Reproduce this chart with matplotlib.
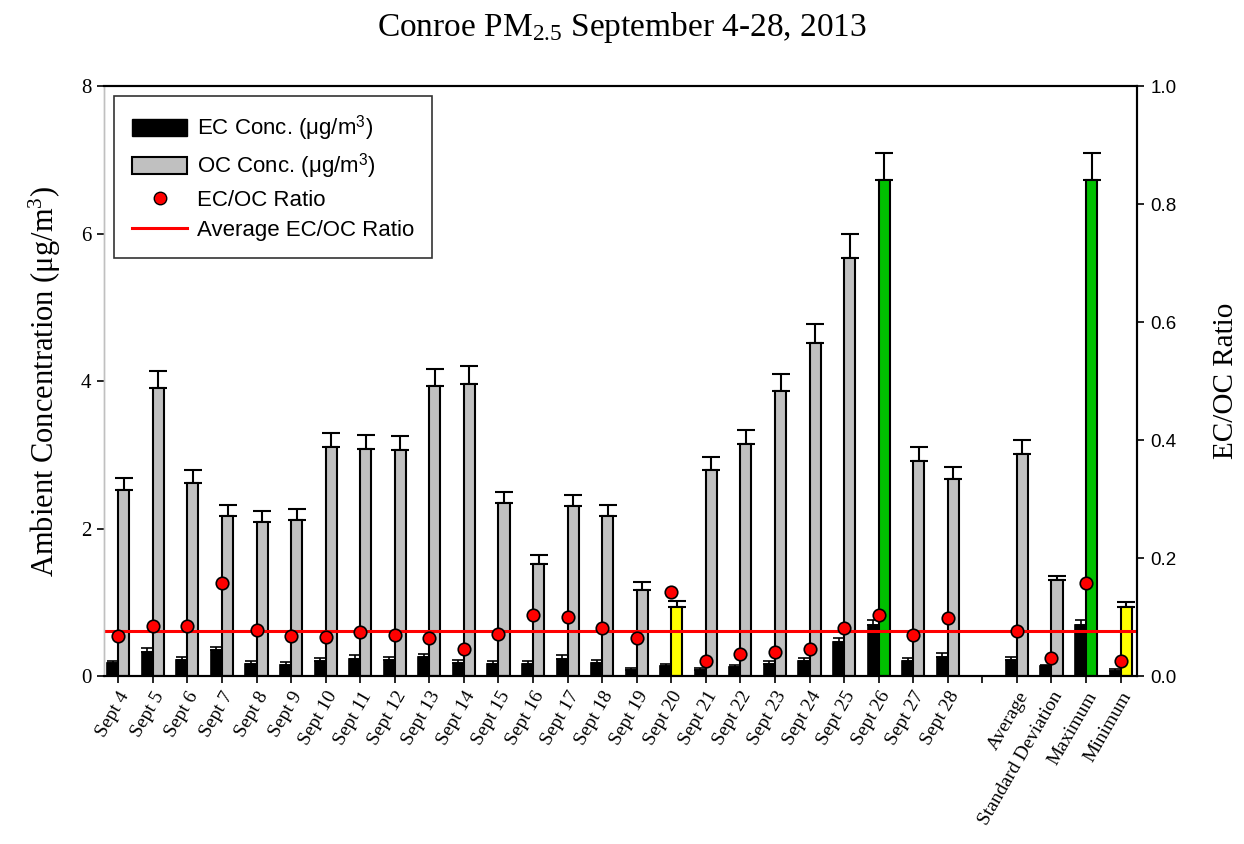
import numpy as np
import matplotlib
matplotlib.use("Agg")
import matplotlib.pyplot as plt
from matplotlib.patches import Patch
from matplotlib.lines import Line2D

# categories (blank entry = gap between daily values and summary stats)
labels = ["Sept 4", "Sept 5", "Sept 6", "Sept 7", "Sept 8", "Sept 9", "Sept 10",
          "Sept 11", "Sept 12", "Sept 13", "Sept 14", "Sept 15", "Sept 16", "Sept 17",
          "Sept 18", "Sept 19", "Sept 20", "Sept 21", "Sept 22", "Sept 23", "Sept 24",
          "Sept 25", "Sept 26", "Sept 27", "Sept 28", "",
          "Average", "Standard Deviation", "Maximum", "Minimum"]

nan = np.nan
ec = [0.18, 0.33, 0.22, 0.35, 0.17, 0.15, 0.20, 0.23, 0.22, 0.26, 0.18, 0.17, 0.16,
      0.23, 0.18, 0.08, 0.14, 0.08, 0.12, 0.16, 0.20, 0.46, 0.69, 0.20, 0.26, nan,
      0.22, 0.13, 0.69, 0.07]
ec_err = [0.03, 0.05, 0.04, 0.04, 0.04, 0.04, 0.04, 0.05, 0.04, 0.04, 0.04, 0.04, 0.04,
          0.05, 0.04, 0.03, 0.03, 0.03, 0.03, 0.04, 0.04, 0.05, 0.07, 0.04, 0.05, nan,
          0.04, 0.02, 0.07, 0.03]
oc = [2.52, 3.90, 2.62, 2.17, 2.09, 2.12, 3.10, 3.08, 3.06, 3.93, 3.96, 2.34, 1.52,
      2.30, 2.17, 1.17, 0.93, 2.79, 3.15, 3.87, 4.51, 5.67, 6.72, 2.92, 2.67, nan,
      3.01, 1.30, 6.72, 0.93]
oc_err = [0.17, 0.23, 0.17, 0.15, 0.15, 0.14, 0.19, 0.19, 0.19, 0.23, 0.24, 0.16, 0.12,
          0.15, 0.15, 0.10, 0.09, 0.18, 0.19, 0.23, 0.27, 0.33, 0.37, 0.19, 0.17, nan,
          0.19, 0.06, 0.37, 0.08]
ratio = [0.068, 0.084, 0.084, 0.158, 0.078, 0.068, 0.066, 0.075, 0.070, 0.065, 0.045,
         0.071, 0.103, 0.100, 0.081, 0.064, 0.142, 0.026, 0.037, 0.041, 0.045, 0.081,
         0.103, 0.070, 0.099, nan, 0.076, 0.031, 0.157, 0.025]
avg_ratio = 0.076

oc_colors = ["#c0c0c0"] * len(labels)
for lab, col in [("Sept 20", "#ffff00"), ("Minimum", "#ffff00"),
                 ("Sept 26", "#00c000"), ("Maximum", "#00c000")]:
    oc_colors[labels.index(lab)] = col

serif = ["Liberation Serif", "DejaVu Serif"]
sans = ["Liberation Sans", "DejaVu Sans"]
plt.rcParams["mathtext.fontset"] = "custom"
plt.rcParams["mathtext.rm"] = "Liberation Serif"
plt.rcParams["mathtext.it"] = "Liberation Serif:italic"
plt.rcParams["mathtext.sf"] = "Liberation Sans"

fig = plt.figure(figsize=(12.44, 8.44), dpi=100)
ax = fig.add_axes([0.0836, 0.199, 0.830, 0.699])
ax2 = ax.twinx()

x = np.arange(len(labels))
w = 0.32
ec_arr = np.array(ec)
oc_arr = np.array(oc)
ax.bar(x - w / 2, ec_arr, w, color="black", edgecolor="black", linewidth=1.2, zorder=2)
ax.bar(x + w / 2, oc_arr, w, color=oc_colors, edgecolor="black", linewidth=1.5, zorder=2)
ax.errorbar(x - w / 2, ec_arr, yerr=[np.zeros(len(x)), np.array(ec_err)], fmt="none",
            ecolor="black", elinewidth=1.2, capsize=4.5, capthick=1.2, zorder=1)
ax.errorbar(x + w / 2, oc_arr, yerr=[np.zeros(len(x)), np.array(oc_err)], fmt="none",
            ecolor="black", elinewidth=1.5, capsize=6.3, capthick=1.5, zorder=1)

ax2.axhline(avg_ratio, color="#ff0000", linewidth=2.2, zorder=2)
ax2.plot(x, ratio, "o", color="#ff0000", markeredgecolor="black", markeredgewidth=1.2,
         markersize=9, zorder=3)

ax.set_xlim(-0.414, 29.46)
ax.set_ylim(0, 8)
ax2.set_ylim(0, 1.0)
ax.set_yticks([0, 2, 4, 6, 8])
ax2.set_yticks([0.0, 0.2, 0.4, 0.6, 0.8, 1.0])
ax2.set_yticklabels(["0.0", "0.2", "0.4", "0.6", "0.8", "1.0"])
ax.set_xticks(x)
ax.set_xticklabels(labels, rotation=60, ha="right", rotation_mode="anchor",
                   family=serif, fontsize=14)
for t in ax.get_yticklabels():
    t.set_family(serif)
    t.set_fontsize(15)
for t in ax2.get_yticklabels():
    t.set_family(sans)
    t.set_fontsize(13.5)
ax.tick_params(axis="both", direction="out", length=5, width=1.2, pad=4)
ax2.tick_params(axis="y", direction="out", length=5, width=1.2, pad=5)

for a in (ax, ax2):
    a.spines["left"].set_color("#c0c0c0")
    a.spines["left"].set_linewidth(1.0)
    for s in ("top", "right", "bottom"):
        a.spines[s].set_linewidth(1.5)
        a.spines[s].set_color("black")

ax.set_ylabel("Ambient Concentration (μg/m$^3$)", family=serif, fontsize=22, labelpad=13)
ax2.set_ylabel("EC/OC Ratio", family=serif, fontsize=21, labelpad=26)
fig.suptitle("Conroe PM$_{2.5}$ September 4-28, 2013", family=serif, fontsize=24,
             y=0.988, va="top")

handles = [
    Patch(facecolor="black", edgecolor="black", label="EC Conc. (μg/m$^{\\mathsf{3}}$)"),
    Patch(facecolor="#c0c0c0", edgecolor="black", linewidth=1.5,
          label="OC Conc. (μg/m$^{\\mathsf{3}}$)"),
    Line2D([], [], marker="o", linestyle="none", color="#ff0000", markeredgecolor="black",
           markersize=9, label="EC/OC Ratio"),
    Line2D([], [], color="#ff0000", linewidth=2.2, label="Average EC/OC Ratio"),
]
leg = ax2.legend(handles=handles, loc="upper left", bbox_to_anchor=(0.0097, 0.983),
                 prop={"family": sans, "size": 16}, frameon=True, fancybox=False,
                 edgecolor="black", handlelength=2.5, handleheight=0.8, borderpad=0.8,
                 labelspacing=0.38, handletextpad=0.45, borderaxespad=0)
leg.get_frame().set_linewidth(1.2)

fig.savefig("out.png", dpi=100)
